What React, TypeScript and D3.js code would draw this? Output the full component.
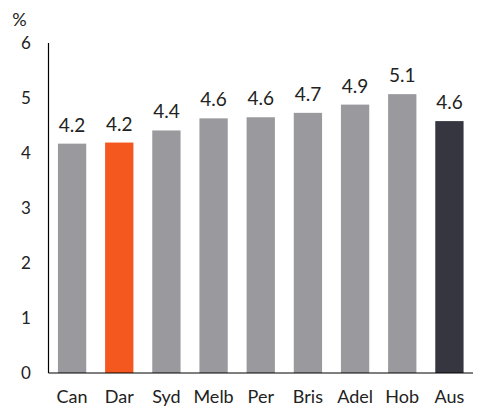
import React from 'react';
import { scaleBand, scaleLinear } from 'd3';

const cities = ['Can', 'Dar', 'Syd', 'Melb', 'Per', 'Bris', 'Adel', 'Hob', 'Aus'];
const values = [4.17, 4.19, 4.41, 4.63, 4.65, 4.73, 4.88, 5.07, 4.58];
const labels = ['4.2', '4.2', '4.4', '4.6', '4.6', '4.7', '4.9', '5.1', '4.6'];
const yTicks = [0, 1, 2, 3, 4, 5, 6];

const colorFor = (c: string) =>
  c === 'Dar' ? '#f4581e' : c === 'Aus' ? '#363641' : '#9a9a9e';

export default function App() {
  const width = 479, height = 406;
  const margin = { top: 43, right: 6, bottom: 33, left: 48.5 };

  const x = scaleBand<string>()
    .domain(cities)
    .range([margin.left, width - margin.right])
    .paddingInner(0.4)
    .paddingOuter(0.2);

  const y = scaleLinear()
    .domain([0, 6])
    .range([height - margin.bottom, margin.top]);

  const font = 'Lato, "Open Sans", sans-serif';

  return (
    <svg width={width} height={height} style={{ position: 'absolute', left: 0, top: 0 }} fontFamily={font}>
      <text x={19.5} y={26} fontSize={18} textAnchor="middle" fill="#222">%</text>
      {yTicks.map(t => (
        <text key={t} x={26} y={y(t)} dy="0.35em" fontSize={17} textAnchor="middle" fill="#222">{t}</text>
      ))}
      {cities.map((c, i) => (
        <g key={c}>
          <rect x={x(c)} y={y(values[i])} width={x.bandwidth()} height={y(0) - y(values[i])} fill={colorFor(c)} />
          <text x={(x(c) as number) + x.bandwidth() / 2} y={y(values[i]) - 12} fontSize={19} textAnchor="middle" fill="#222">{labels[i]}</text>
          <text x={(x(c) as number) + x.bandwidth() / 2} y={y(0) + 30} fontSize={18} textAnchor="middle" fill="#222">{c}</text>
        </g>
      ))}
      <line x1={margin.left} x2={margin.left} y1={y(6)} y2={y(0)} stroke="#000" strokeWidth={1.2} />
      <line x1={margin.left} x2={width - margin.right} y1={y(0)} y2={y(0)} stroke="#000" strokeWidth={1.2} />
    </svg>
  );
}
